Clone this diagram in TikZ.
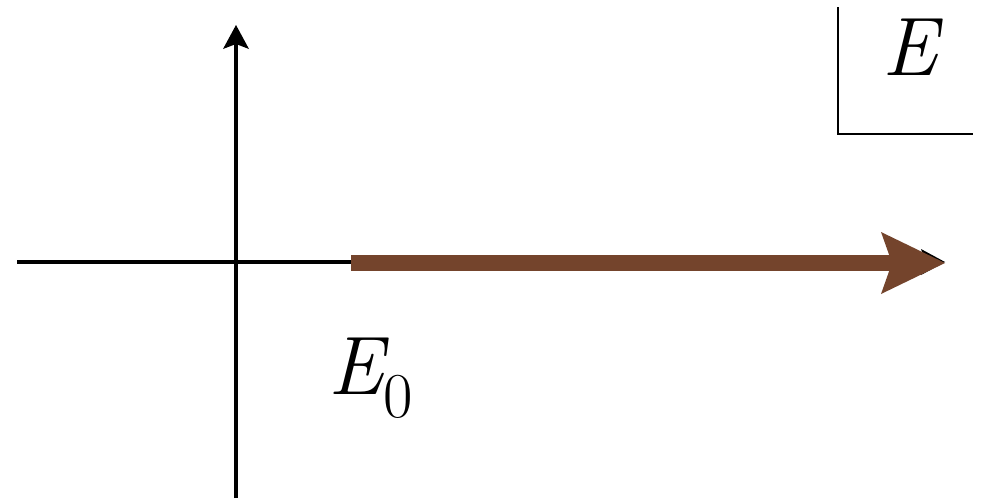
\documentclass[tikz,border=0pt]{standalone}
\usetikzlibrary{arrows.meta}
\definecolor{arrowbrown}{RGB}{116,68,44}
\begin{document}
\begin{tikzpicture}[x=1pt,y=-1pt,
  axis/.style={line width=4pt,black},
  axtip/.style={-{Stealth[length=24pt,width=26pt,inset=5pt,line width=0pt]}},
  vec/.style={line width=16pt,arrowbrown,-{Stealth[length=64pt,width=62pt,inset=11pt,line width=0pt]}},
  frame/.style={line width=2.2pt,black},
  lbl/.style={inner sep=0pt,font=\fontsize{83}{83}\selectfont\itshape}]
\useasboundingbox (0,0) rectangle (982,498);
\coordinate (hl) at (17,262);
\coordinate (o) at (236,262);
\coordinate (ht) at (945,262);
\coordinate (vb) at (236,498);
\coordinate (vt) at (236,25);
\coordinate (e0) at (351,263);
\coordinate (tip) at (945,263);
\coordinate (ft) at (838,7);
\coordinate (fc) at (838,134);
\coordinate (fr) at (973,134);
\draw[axis,axtip] (vb) -- (vt);
\draw[axis,axtip] (hl) -- (ht);
\draw[vec] (e0) -- (tip);
\draw[frame] (ft) -- (fc) -- (fr);
\node[lbl,anchor=base] (E) at (910,75) {E};
\node[lbl,anchor=base west] (E0) at (328,394) {E\fontsize{64}{64}\selectfont\upshape\raisebox{-23pt}{0}};
\end{tikzpicture}
\end{document}
